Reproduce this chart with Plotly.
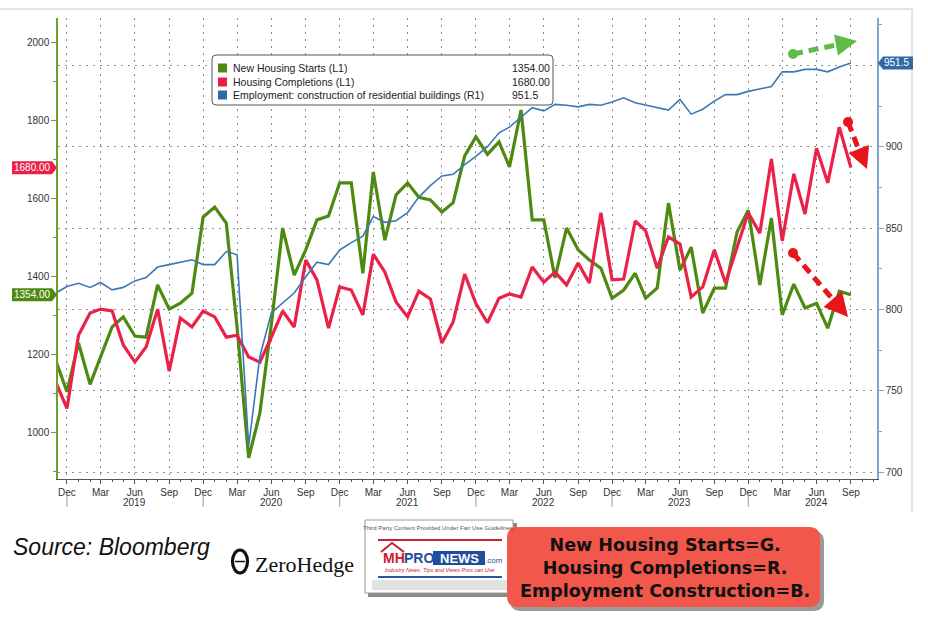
import plotly.graph_objects as go
import pandas as pd

# ---------------- data ----------------
months = pd.date_range("2018-11-01", "2024-09-01", freq="MS")

starts = [1185, 1105, 1230, 1124, 1194, 1271, 1297, 1248, 1245, 1379, 1317, 1332,
          1358, 1553, 1579, 1538, 1270, 935, 1050, 1280, 1525, 1404, 1469, 1546,
          1556, 1641, 1641, 1409, 1669, 1494, 1610, 1641, 1604, 1597, 1566, 1590,
          1710, 1759, 1714, 1746, 1682, 1828, 1546, 1546, 1397, 1525, 1469, 1443,
          1422, 1345, 1366, 1409, 1345, 1371, 1589, 1417, 1476, 1307, 1371, 1371,
          1515, 1571, 1379, 1551, 1302, 1381, 1320, 1332, 1268, 1363, 1354]

completions = [1130, 1062, 1250, 1307, 1317, 1312, 1225, 1181, 1220, 1317, 1158, 1294,
               1271, 1312, 1297, 1245, 1250, 1194, 1181, 1245, 1312, 1271, 1443, 1392,
               1268, 1374, 1366, 1302, 1458, 1412, 1335, 1297, 1363, 1343, 1230, 1284,
               1407, 1331, 1282, 1345, 1356, 1348, 1425, 1386, 1412, 1379, 1435, 1384,
               1564, 1392, 1394, 1543, 1518, 1422, 1502, 1484, 1348, 1374, 1469, 1384,
               1476, 1564, 1512, 1702, 1492, 1664, 1561, 1730, 1641, 1784, 1680]

employment = [810, 814, 816, 813.5, 816.5, 812, 813.5, 817.5, 819.5, 826, 827.5, 829,
              830.5, 827.5, 827.5, 835.5, 833.5, 716, 771, 798, 804, 810, 820, 829,
              827.5, 836.5, 841, 845, 857, 853.5, 854.5, 859.5, 869, 876, 882, 883,
              889, 894, 900, 908.5, 912, 918, 924, 922, 926, 925.5, 924.5, 926,
              925.5, 927.5, 930, 927, 925.5, 924, 922.5, 929, 920, 923, 928, 932,
              932, 934, 935.5, 937, 946, 946, 947.5, 947.5, 946, 949, 951.5]

series_names = ["New Housing Starts (L1)", "Housing Completions (L1)",
                "Employment: construction of residential buildings (R1)"]
last_labels = ["1354.00", "1680.00", "951.5"]
year_labels = ["2019", "2020", "2021", "2022", "2023", "2024"]
right_ticks = [700, 750, 800, 850, 900, 950]
right_ticktext = ["700", "750", "800", "850", "900", ""]
box_lines = ["New Housing Starts=G.", "Housing Completions=R.", "Employment Construction=B."]

GREEN = "#4E8A12"
RED = "#EA2149"
BLUE = "#3D78B4"
GAX = "#6E9E30"
BAX = "#7EA6CF"
FONT = "Liberation Sans"

# ---------------- geometry helpers (pixel -> paper) ----------------
W, H = 928, 627
PL, PR, PT, PB = 58, 877, 18, 479


def fx(x):
    return (x - PL) / (PR - PL)


def fy(y):
    return (PB - y) / (PB - PT)


def rrect(x0, y0, x1, y1, r):
    return (f"M{fx(x0 + r)},{fy(y0)} L{fx(x1 - r)},{fy(y0)} Q{fx(x1)},{fy(y0)} {fx(x1)},{fy(y0 + r)} "
            f"L{fx(x1)},{fy(y1 - r)} Q{fx(x1)},{fy(y1)} {fx(x1 - r)},{fy(y1)} "
            f"L{fx(x0 + r)},{fy(y1)} Q{fx(x0)},{fy(y1)} {fx(x0)},{fy(y1 - r)} "
            f"L{fx(x0)},{fy(y0 + r)} Q{fx(x0)},{fy(y0)} {fx(x0 + r)},{fy(y0)} Z")


def poly(pts):
    return "M" + " L".join(f"{fx(a)},{fy(b)}" for a, b in pts) + " Z"


fig = go.Figure()
fig.add_trace(go.Scatter(x=months, y=starts, mode="lines", name=series_names[0],
                         line=dict(color=GREEN, width=3.2), yaxis="y"))
fig.add_trace(go.Scatter(x=months, y=completions, mode="lines", name=series_names[1],
                         line=dict(color=RED, width=3.2), yaxis="y"))
fig.add_trace(go.Scatter(x=months, y=employment, mode="lines", name=series_names[2],
                         line=dict(color=BLUE, width=1.6), yaxis="y2"))

shapes = []
ann = []

# chart frame lines
shapes.append(dict(type="line", xref="paper", yref="paper", x0=fx(0), x1=fx(912), y0=fy(9), y1=fy(9),
                   line=dict(color="#C8C8C8", width=1)))
shapes.append(dict(type="line", xref="paper", yref="paper", x0=fx(912), x1=fx(912), y0=fy(9), y1=fy(512),
                   line=dict(color="#C8C8C8", width=1)))

# year separators + labels
for yl in year_labels:
    yr = int(yl)
    shapes.append(dict(type="line", xref="x", yref="paper", x0=f"{yr-1}-12-01", x1=f"{yr-1}-12-01",
                       y0=fy(493), y1=fy(507), line=dict(color="#999", width=1)))
    ann.append(dict(text=yl, xref="x", yref="paper", x=f"{yr}-06-01", y=fy(502), showarrow=False,
                    font=dict(family=FONT, size=10, color="#333"), xanchor="center", yanchor="middle"))

# last-value tags on axes
tag_h1 = 6.5 / 0.3897
shapes.append(dict(type="path", xref="paper", yref="y",
                   path=f"M{fx(12)},{completions[-1]-tag_h1} L{fx(52)},{completions[-1]-tag_h1} "
                        f"L{fx(57)},{completions[-1]} L{fx(52)},{completions[-1]+tag_h1} "
                        f"L{fx(12)},{completions[-1]+tag_h1} Z",
                   fillcolor=RED, line=dict(width=0)))
shapes.append(dict(type="path", xref="paper", yref="y",
                   path=f"M{fx(12)},{starts[-1]-tag_h1} L{fx(52)},{starts[-1]-tag_h1} "
                        f"L{fx(57)},{starts[-1]} L{fx(52)},{starts[-1]+tag_h1} "
                        f"L{fx(12)},{starts[-1]+tag_h1} Z",
                   fillcolor=GREEN, line=dict(width=0)))
tag_h2 = 6.5 / 1.627
shapes.append(dict(type="path", xref="paper", yref="y2",
                   path=f"M{fx(878)},{employment[-1]} L{fx(883)},{employment[-1]+tag_h2} "
                        f"L{fx(913)},{employment[-1]+tag_h2} L{fx(913)},{employment[-1]-tag_h2} "
                        f"L{fx(883)},{employment[-1]-tag_h2} Z",
                   fillcolor="#2F6AA6", line=dict(width=0)))
ann.append(dict(text=last_labels[1], xref="paper", yref="y", x=fx(32), y=completions[-1], showarrow=False,
                font=dict(family=FONT, size=10, color="white"), xanchor="center", yanchor="middle"))
ann.append(dict(text=last_labels[0], xref="paper", yref="y", x=fx(32), y=starts[-1], showarrow=False,
                font=dict(family=FONT, size=10, color="white"), xanchor="center", yanchor="middle"))
ann.append(dict(text=last_labels[2], xref="paper", yref="y2", x=fx(897), y=employment[-1], showarrow=False,
                font=dict(family=FONT, size=10, color="white"), xanchor="center", yanchor="middle"))

# legend box
shapes.append(dict(type="path", xref="paper", yref="paper", path=rrect(212, 55, 553, 105, 4),
                   fillcolor="white", line=dict(color="#555", width=1)))
leg_colors = [GREEN, "#EE1B45", "#2F6AA6"]
rows = [68, 82, 95]
for name, col, val, ry in zip(series_names, leg_colors, last_labels, rows):
    shapes.append(dict(type="rect", xref="paper", yref="paper", x0=fx(218), x1=fx(227),
                       y0=fy(ry - 4.5), y1=fy(ry + 4.5), fillcolor=col, line=dict(width=0)))
    ann.append(dict(text=name, xref="paper", yref="paper", x=fx(231), y=fy(ry), showarrow=False,
                    font=dict(family=FONT, size=10.5, color="#222"), xanchor="left", yanchor="middle"))
    ann.append(dict(text=val, xref="paper", yref="paper", x=fx(510), y=fy(ry), showarrow=False,
                    font=dict(family=FONT, size=10.5, color="#222"), xanchor="left", yanchor="middle"))


# hand-drawn dashed arrows
def arrow(start, tip, base_l, base_r, bc, color, r=5):
    sx, sy = start
    shapes.append(dict(type="line", xref="paper", yref="paper", x0=fx(sx), y0=fy(sy), x1=fx(bc[0]), y1=fy(bc[1]),
                       line=dict(color=color, width=5, dash="10px,6px")))
    shapes.append(dict(type="circle", xref="paper", yref="paper", x0=fx(sx - r), x1=fx(sx + r),
                       y0=fy(sy - r), y1=fy(sy + r), fillcolor=color, line=dict(width=0)))
    shapes.append(dict(type="path", xref="paper", yref="paper", path=poly([tip, base_l, base_r]),
                       fillcolor=color, line=dict(width=0)))


arrow((793, 54), (857, 41), (838, 55.5), (834, 34.5), (836, 45), "#5DBB46")
arrow((848, 122), (867, 169), (869, 145), (848.5, 153), (858.5, 149), "#E8151B")
arrow((793, 253), (848, 317), (842, 291), (823.5, 307), (832.5, 299), "#E8151B")

# bottom: source text
ann.append(dict(text="<i>Source: Bloomberg</i>", xref="paper", yref="paper", x=fx(11), y=fy(547),
                showarrow=False, font=dict(family=FONT, size=23, color="#111"), xanchor="left", yanchor="middle"))

# ZeroHedge logo
shapes.append(dict(type="circle", xref="paper", yref="paper", x0=fx(232.5), x1=fx(247.5), y0=fy(550), y1=fy(573),
                   line=dict(color="#111", width=3.2)))
shapes.append(dict(type="line", xref="paper", yref="paper", x0=fx(235), x1=fx(245), y0=fy(561.5), y1=fy(561.5),
                   line=dict(color="#111", width=1.5)))
ann.append(dict(text="ZeroHedge", xref="paper", yref="paper", x=fx(253), y=fy(564), showarrow=False,
                font=dict(family="Liberation Serif", size=22, color="#111"), xanchor="left", yanchor="middle"))

# MHPRONEWS badge
shapes.append(dict(type="rect", xref="paper", yref="paper", x0=fx(368), x1=fx(517), y0=fy(523), y1=fy(597),
                   fillcolor="#8A8A8A", line=dict(width=0)))
shapes.append(dict(type="rect", xref="paper", yref="paper", x0=fx(365), x1=fx(513), y0=fy(520), y1=fy(593),
                   fillcolor="white", line=dict(color="#9A9A9A", width=1)))
shapes.append(dict(type="rect", xref="paper", yref="paper", x0=fx(372), x1=fx(507), y0=fy(580), y1=fy(590),
                   fillcolor="#E2E2E2", line=dict(width=0)))
shapes.append(dict(type="line", xref="paper", yref="paper", x0=fx(378), x1=fx(502), y0=fy(540), y1=fy(540),
                   line=dict(color="#C8202F", width=2)))
shapes.append(dict(type="line", xref="paper", yref="paper", x0=fx(378), x1=fx(502), y0=fy(577), y1=fy(577),
                   line=dict(color="#2A55A5", width=2)))
shapes.append(dict(type="path", xref="paper", yref="paper",
                   path=f"M{fx(381)},{fy(552)} L{fx(392)},{fy(543)} L{fx(404)},{fy(552)}",
                   line=dict(color="#C8202F", width=2)))
shapes.append(dict(type="rect", xref="paper", yref="paper", x0=fx(433), x1=fx(485), y0=fy(551), y1=fy(565),
                   fillcolor="#1F4E9C", line=dict(width=0)))
ann.append(dict(text="Third Party Content Provided Under Fair Use Guidelines.", xref="paper", yref="paper",
                x=fx(439), y=fy(527.5), showarrow=False, font=dict(family=FONT, size=6, color="#555"),
                xanchor="center", yanchor="middle"))
ann.append(dict(text="<b>MH</b>", xref="paper", yref="paper", x=fx(394), y=fy(558), showarrow=False,
                font=dict(family=FONT, size=14, color="#C8202F"), xanchor="center", yanchor="middle"))
ann.append(dict(text="<b>PRO</b>", xref="paper", yref="paper", x=fx(419), y=fy(558), showarrow=False,
                font=dict(family=FONT, size=14, color="#1F4E9C"), xanchor="center", yanchor="middle"))
ann.append(dict(text="<b>NEWS</b>", xref="paper", yref="paper", x=fx(459), y=fy(558), showarrow=False,
                font=dict(family=FONT, size=13, color="white"), xanchor="center", yanchor="middle"))
ann.append(dict(text=".com", xref="paper", yref="paper", x=fx(494), y=fy(560), showarrow=False,
                font=dict(family=FONT, size=8, color="#1F4E9C"), xanchor="center", yanchor="middle"))
ann.append(dict(text="<i>Industry News, Tips and Views Pros can Use</i>", xref="paper", yref="paper",
                x=fx(440), y=fy(570), showarrow=False, font=dict(family=FONT, size=5.5, color="#C8202F"),
                xanchor="center", yanchor="middle"))

# red explanation box (one three-line text block)
shapes.append(dict(type="path", xref="paper", yref="paper", path=rrect(510, 531, 824, 611, 11),
                   fillcolor="#9A9A9A", line=dict(width=0)))
shapes.append(dict(type="path", xref="paper", yref="paper", path=rrect(507, 527, 820, 607, 11),
                   fillcolor="#F2574B", line=dict(width=0)))
ann.append(dict(text="<br>".join(f"<b>{t}</b>" for t in box_lines), xref="paper", yref="paper",
                x=fx(665), y=fy(568), showarrow=False, align="center",
                font=dict(family="DejaVu Sans", size=17.5, color="#111"), xanchor="center", yanchor="middle"))

fig.update_layout(
    width=W, height=H,
    margin=dict(l=PL, r=W - PR, t=PT, b=H - PB, pad=0),
    paper_bgcolor="white", plot_bgcolor="white",
    showlegend=False,
    font=dict(family=FONT, size=10, color="#333"),
    xaxis=dict(type="date", range=["2018-11-07", "2024-11-10"], tickformat="%b", dtick="M3",
               tick0="2018-12-01", ticks="outside", ticklen=4, tickcolor="#555", showline=True,
               linecolor="#555", linewidth=1, showgrid=True, gridcolor="#8C8C8C", gridwidth=1,
               griddash="2px,5px", zeroline=False,
               minor=dict(dtick="M1", ticks="outside", ticklen=2, tickcolor="#555", showgrid=False),
               tickfont=dict(family=FONT, size=10, color="#333")),
    yaxis=dict(range=[881, 2064], dtick=200, tick0=0, ticks="outside", ticklen=5, tickcolor=GAX,
               showline=True, linecolor=GAX, linewidth=1.5, showgrid=False, zeroline=False,
               minor=dict(dtick=100, ticks="outside", ticklen=3, tickcolor=GAX, showgrid=False),
               tickfont=dict(family=FONT, size=10, color="#333")),
    yaxis2=dict(range=[695.7, 979.1], overlaying="y", side="right", tickmode="array",
                tickvals=right_ticks, ticktext=right_ticktext, ticks="outside",
                ticklen=5, tickcolor=BAX, showline=True, linecolor=BAX, linewidth=1.5, showgrid=True,
                gridcolor="#8C8C8C", gridwidth=1, griddash="2px,5px", zeroline=False,
                minor=dict(dtick=25, tick0=0, ticks="outside", ticklen=3, tickcolor=BAX, showgrid=False),
                tickfont=dict(family=FONT, size=10, color="#333")),
    shapes=shapes,
    annotations=ann,
)

fig.write_html("out.html", config={"displayModeBar": False},
               post_script="document.body.style.margin='0px';")
